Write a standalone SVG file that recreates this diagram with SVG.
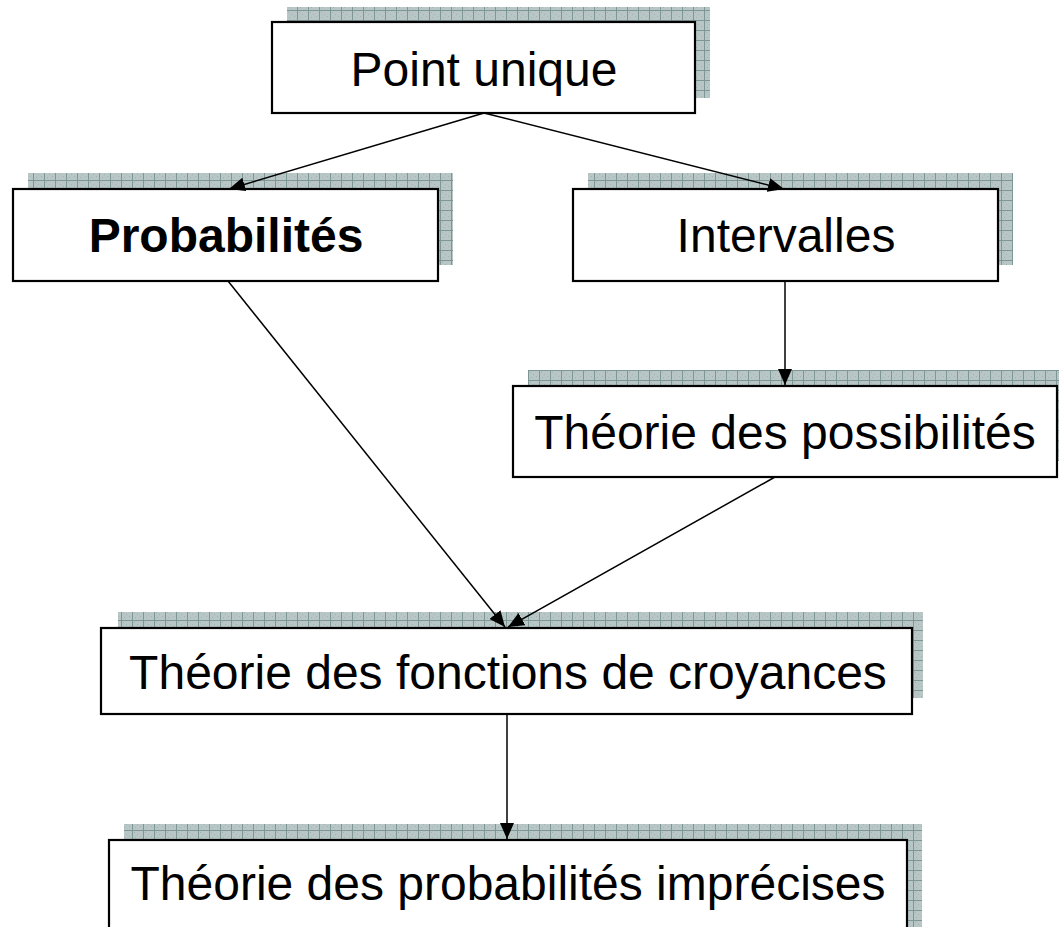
<svg xmlns="http://www.w3.org/2000/svg" width="1059" height="927" viewBox="0 0 1059 927">
<style>
.box{fill:#ffffff;stroke:#000000;stroke-width:2.2}
.shadow{fill:url(#grid);stroke:none}
.lbl{font-family:"Liberation Sans",Arial,sans-serif;font-size:48px;fill:#000000;text-anchor:middle}
.bold{font-weight:bold}
.conn{stroke:#000000;stroke-width:1.5;fill:none;marker-end:url(#arrow)}
</style>
<defs>
<pattern id="grid" patternUnits="userSpaceOnUse" x="0" y="0" width="11" height="10">
<rect width="11" height="10" fill="#b8c6c6"/>
<rect x="2" y="2" width="1" height="1" fill="#a3b3b3"/>
<rect x="5" y="4" width="1" height="1" fill="#a3b3b3"/>
<rect x="8" y="6" width="1" height="1" fill="#a3b3b3"/>
<rect x="3" y="7" width="1" height="1" fill="#a3b3b3"/>
<rect x="0" y="0" width="11" height="1" fill="#7d9696"/>
<rect x="0" y="0" width="1" height="10" fill="#7d9696"/>
</pattern>
<marker id="arrow" markerUnits="userSpaceOnUse" markerWidth="18" markerHeight="14" refX="16" refY="7" orient="auto">
<path d="M0,0 L16,7 L0,14 Z" fill="#000000"/>
</marker>
</defs>
<g id="node-point-unique">
<rect class="shadow" x="287" y="7" width="423" height="91"/>
<rect class="box" x="272" y="22" width="423" height="91"/>
<text class="lbl" x="484" y="86">Point unique</text>
</g>
<g id="node-probabilites">
<rect class="shadow" x="28" y="173" width="425" height="92"/>
<rect class="box" x="13" y="189" width="425" height="92"/>
<text class="lbl bold" x="226" y="252">Probabilités</text>
</g>
<g id="node-intervalles">
<rect class="shadow" x="588" y="173" width="425" height="92"/>
<rect class="box" x="573" y="189" width="425" height="92"/>
<text class="lbl" x="786" y="252">Intervalles</text>
</g>
<g id="node-possibilites">
<rect class="shadow" x="528" y="370" width="544" height="91"/>
<rect class="box" x="513" y="386" width="544" height="91"/>
<text class="lbl" x="785" y="449">Théorie des possibilités</text>
</g>
<g id="node-fonctions-croyances">
<rect class="shadow" x="118" y="612" width="805" height="86"/>
<rect class="box" x="101" y="628" width="811" height="86"/>
<text class="lbl" x="508" y="689">Théorie des fonctions de croyances</text>
</g>
<g id="node-probabilites-imprecises">
<rect class="shadow" x="124" y="824" width="798" height="110"/>
<rect class="box" x="109" y="840" width="798" height="110"/>
<text class="lbl" x="508" y="900">Théorie des probabilités imprécises</text>
</g>
<g id="connectors">
<line class="conn" x1="484" y1="113" x2="229" y2="189"/>
<line class="conn" x1="484" y1="113" x2="784" y2="189"/>
<line class="conn" x1="228" y1="281" x2="505" y2="627"/>
<line class="conn" x1="775" y1="477" x2="508" y2="627"/>
<line class="conn" x1="785" y1="281" x2="785" y2="385"/>
<line class="conn" x1="507" y1="714" x2="507" y2="839"/>
</g>
</svg>
